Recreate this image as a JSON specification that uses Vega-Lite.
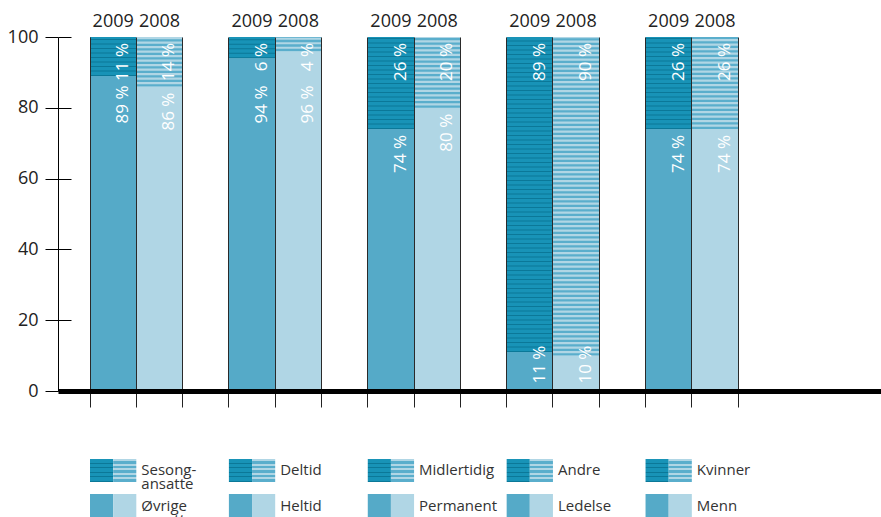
{
  "$schema": "https://vega.github.io/schema/vega-lite/v6.json",
  "padding": {"left": 7, "top": 13, "right": 0, "bottom": 0},
  "bounds": "flush",
  "spacing": 68,
  "config": {
    "view": {"stroke": null},
    "font": "Open Sans",
    "text": {"font": "Open Sans"},
    "axis": {"labelFont": "Open Sans"}
  },
  "datasets": {
    "bars": [
      {"group": "Sesong", "year": "2009", "part": "upper", "pct": 11},
      {"group": "Sesong", "year": "2009", "part": "lower", "pct": 89},
      {"group": "Sesong", "year": "2008", "part": "upper", "pct": 14},
      {"group": "Sesong", "year": "2008", "part": "lower", "pct": 86},
      {"group": "Deltid", "year": "2009", "part": "upper", "pct": 6},
      {"group": "Deltid", "year": "2009", "part": "lower", "pct": 94},
      {"group": "Deltid", "year": "2008", "part": "upper", "pct": 4},
      {"group": "Deltid", "year": "2008", "part": "lower", "pct": 96},
      {"group": "Midlertidig", "year": "2009", "part": "upper", "pct": 26},
      {"group": "Midlertidig", "year": "2009", "part": "lower", "pct": 74},
      {"group": "Midlertidig", "year": "2008", "part": "upper", "pct": 20},
      {"group": "Midlertidig", "year": "2008", "part": "lower", "pct": 80},
      {"group": "Andre", "year": "2009", "part": "upper", "pct": 89},
      {"group": "Andre", "year": "2009", "part": "lower", "pct": 11},
      {"group": "Andre", "year": "2008", "part": "upper", "pct": 90},
      {"group": "Andre", "year": "2008", "part": "lower", "pct": 10},
      {"group": "Kvinner", "year": "2009", "part": "upper", "pct": 26},
      {"group": "Kvinner", "year": "2009", "part": "lower", "pct": 74},
      {"group": "Kvinner", "year": "2008", "part": "upper", "pct": 26},
      {"group": "Kvinner", "year": "2008", "part": "lower", "pct": 74}
    ],
    "legend": [
      {"group": "Sesong", "row": "upper", "label": "Sesong-\nansatte"},
      {"group": "Sesong", "row": "lower", "label": "Øvrige\nansatte"},
      {"group": "Deltid", "row": "upper", "label": "Deltid"},
      {"group": "Deltid", "row": "lower", "label": "Heltid"},
      {"group": "Midlertidig", "row": "upper", "label": "Midlertidig"},
      {"group": "Midlertidig", "row": "lower", "label": "Permanent"},
      {"group": "Andre", "row": "upper", "label": "Andre"},
      {"group": "Andre", "row": "lower", "label": "Ledelse"},
      {"group": "Kvinner", "row": "upper", "label": "Kvinner"},
      {"group": "Kvinner", "row": "lower", "label": "Menn"}
    ]
  },
  "vconcat": [
    {
      "width": 823,
      "height": 354,
      "data": {"name": "bars"},
      "transform": [
        {"calculate": "datum.group + ' ' + datum.year", "as": "slot"},
        {"stack": "pct", "groupby": ["slot"], "sort": [{"field": "part", "order": "ascending"}], "as": ["y0", "y1"]},
        {"calculate": "datum.pct + ' %'", "as": "label"},
        {"calculate": "datum.part == 'upper' ? datum.y1 : max(14.5, min(88, datum.y1))", "as": "ly"}
      ],
      "encoding": {
        "x": {
          "field": "slot",
          "type": "nominal",
          "scale": {
            "type": "band",
            "domain": ["Sesong 2009", "Sesong 2008", "Sesong –", "Deltid 2009", "Deltid 2008", "Deltid –", "Midlertidig 2009", "Midlertidig 2008", "Midlertidig –", "Andre 2009", "Andre 2008", "Andre –", "Kvinner 2009", "Kvinner 2008", "Kvinner –", "pad1", "pad2"],
            "paddingInner": 0,
            "paddingOuter": 0.389,
            "align": 0.889
          },
          "axis": {
            "orient": "bottom",
            "values": ["Sesong 2009", "Sesong 2008", "Sesong –", "Deltid 2009", "Deltid 2008", "Deltid –", "Midlertidig 2009", "Midlertidig 2008", "Midlertidig –", "Andre 2009", "Andre 2008", "Andre –", "Kvinner 2009", "Kvinner 2008", "Kvinner –"],
            "bandPosition": 0,
            "labels": false,
            "title": null,
            "tickSize": 16,
            "tickColor": "#222",
            "tickWidth": 1,
            "grid": true,
            "gridColor": "#2a2a2a",
            "gridWidth": 1,
            "domainColor": "#000",
            "domainWidth": 5,
            "zindex": 1
          }
        }
      },
      "layer": [
        {
          "mark": {"type": "bar"},
          "encoding": {
            "y": {
              "field": "y0",
              "type": "quantitative",
              "scale": {"domain": [0, 100], "nice": false},
              "axis": {
                "values": [0, 20, 40, 60, 80, 100],
                "title": null,
                "tickSize": 13,
                "tickColor": "#000",
                "labelPadding": 7,
                "labelFontSize": 18,
                "labelColor": "#222",
                "domainColor": "#000",
                "grid": true,
                "gridDash": [13, 2000],
                "gridColor": "#000"
              }
            },
            "y2": {"field": "y1"},
            "color": {
              "condition": [
                {"test": "datum.part == 'upper' && datum.year == '2009'", "value": "#1893b7"},
                {"test": "datum.year == '2009'", "value": "#55aac8"}
              ],
              "value": "#b0d6e5"
            }
          }
        },
        {
          "transform": [{"filter": "datum.part == 'upper' && datum.year == '2009'"}],
          "mark": {"type": "rule", "strokeWidth": 46, "strokeDash": [1, 3.5], "strokeCap": "butt", "color": "#0b7898"},
          "encoding": {
            "y": {"field": "y0", "type": "quantitative"},
            "y2": {"field": "y1"}
          }
        },
        {
          "transform": [{"filter": "datum.part == 'upper' && datum.year == '2008'"}],
          "mark": {"type": "rule", "strokeWidth": 46, "strokeDash": [2.4, 2.1], "strokeCap": "butt", "color": "#5aaecc"},
          "encoding": {
            "y": {"field": "y0", "type": "quantitative"},
            "y2": {"field": "y1"}
          }
        },
        {
          "transform": [{"filter": "datum.part == 'upper'"}],
          "mark": {"type": "text", "fontSize": 18, "baseline": "alphabetic", "dy": -10, "color": "#222"},
          "encoding": {
            "y": {"datum": 100, "type": "quantitative"},
            "text": {"field": "year"}
          }
        },
        {
          "mark": {"type": "text", "fontSize": 17, "angle": 270, "align": "right", "baseline": "middle", "dx": -6, "dy": 10, "color": "#ffffff"},
          "encoding": {
            "y": {"field": "ly", "type": "quantitative"},
            "text": {"field": "label"}
          }
        }
      ]
    },
    {
      "width": 823,
      "height": 58,
      "data": {"name": "legend"},
      "transform": [
        {"calculate": "datum.group + ' 2009'", "as": "slot"},
        {"calculate": "datum.group + ' 2008'", "as": "labelSlot"}
      ],
      "encoding": {
        "y": {
          "field": "row",
          "type": "nominal",
          "scale": {"type": "band", "domain": ["upper", "lower"], "paddingInner": 0.343, "paddingOuter": 0},
          "axis": null
        }
      },
      "layer": [
        {
          "mark": {"type": "bar"},
          "encoding": {
            "x": {
              "field": "slot",
              "type": "nominal",
              "scale": {
                "type": "band",
                "domain": ["Sesong 2009", "Sesong 2008", "Sesong –", "Deltid 2009", "Deltid 2008", "Deltid –", "Midlertidig 2009", "Midlertidig 2008", "Midlertidig –", "Andre 2009", "Andre 2008", "Andre –", "Kvinner 2009", "Kvinner 2008", "Kvinner –", "pad1", "pad2"],
                "paddingInner": 0,
                "paddingOuter": 0.389,
                "align": 0.889
              },
              "axis": null
            },
            "xOffset": {"datum": "2009", "type": "nominal", "scale": {"domain": ["2009", "2008"], "paddingInner": 0, "paddingOuter": 0}},
            "color": {
              "condition": {
                "test": "datum.row == 'upper'",
                "value": {
                  "gradient": "linear", "x1": 0, "y1": 0, "x2": 0, "y2": 1,
                  "stops": [
                    {"offset": 0, "color": "#1893b7"}, {"offset": 0.155, "color": "#1893b7"},
                    {"offset": 0.155, "color": "#0b7898"}, {"offset": 0.2, "color": "#0b7898"},
                    {"offset": 0.2, "color": "#1893b7"}, {"offset": 0.355, "color": "#1893b7"},
                    {"offset": 0.355, "color": "#0b7898"}, {"offset": 0.4, "color": "#0b7898"},
                    {"offset": 0.4, "color": "#1893b7"}, {"offset": 0.555, "color": "#1893b7"},
                    {"offset": 0.555, "color": "#0b7898"}, {"offset": 0.6, "color": "#0b7898"},
                    {"offset": 0.6, "color": "#1893b7"}, {"offset": 0.755, "color": "#1893b7"},
                    {"offset": 0.755, "color": "#0b7898"}, {"offset": 0.8, "color": "#0b7898"},
                    {"offset": 0.8, "color": "#1893b7"}, {"offset": 0.955, "color": "#1893b7"},
                    {"offset": 0.955, "color": "#0b7898"}, {"offset": 1, "color": "#0b7898"}
                  ]
                }
              },
              "value": "#55aac8"
            }
          }
        },
        {
          "mark": {"type": "bar"},
          "encoding": {
            "x": {"field": "slot", "type": "nominal"},
            "xOffset": {"datum": "2008", "type": "nominal"},
            "color": {
              "condition": {
                "test": "datum.row == 'upper'",
                "value": {
                  "gradient": "linear", "x1": 0, "y1": 0, "x2": 0, "y2": 1,
                  "stops": [
                    {"offset": 0, "color": "#b0d6e5"}, {"offset": 0.09, "color": "#b0d6e5"},
                    {"offset": 0.09, "color": "#5aaecc"}, {"offset": 0.2, "color": "#5aaecc"},
                    {"offset": 0.2, "color": "#b0d6e5"}, {"offset": 0.29, "color": "#b0d6e5"},
                    {"offset": 0.29, "color": "#5aaecc"}, {"offset": 0.4, "color": "#5aaecc"},
                    {"offset": 0.4, "color": "#b0d6e5"}, {"offset": 0.49, "color": "#b0d6e5"},
                    {"offset": 0.49, "color": "#5aaecc"}, {"offset": 0.6, "color": "#5aaecc"},
                    {"offset": 0.6, "color": "#b0d6e5"}, {"offset": 0.69, "color": "#b0d6e5"},
                    {"offset": 0.69, "color": "#5aaecc"}, {"offset": 0.8, "color": "#5aaecc"},
                    {"offset": 0.8, "color": "#b0d6e5"}, {"offset": 0.89, "color": "#b0d6e5"},
                    {"offset": 0.89, "color": "#5aaecc"}, {"offset": 1, "color": "#5aaecc"}
                  ]
                }
              },
              "value": "#b0d6e5"
            }
          }
        },
        {
          "mark": {"type": "text", "fontSize": 15, "align": "left", "baseline": "middle", "dx": 5, "lineBreak": "\n", "lineHeight": 14, "color": "#333"},
          "encoding": {
            "x": {"field": "labelSlot", "type": "nominal", "bandPosition": 0},
            "text": {"field": "label"}
          }
        }
      ]
    }
  ]
}
